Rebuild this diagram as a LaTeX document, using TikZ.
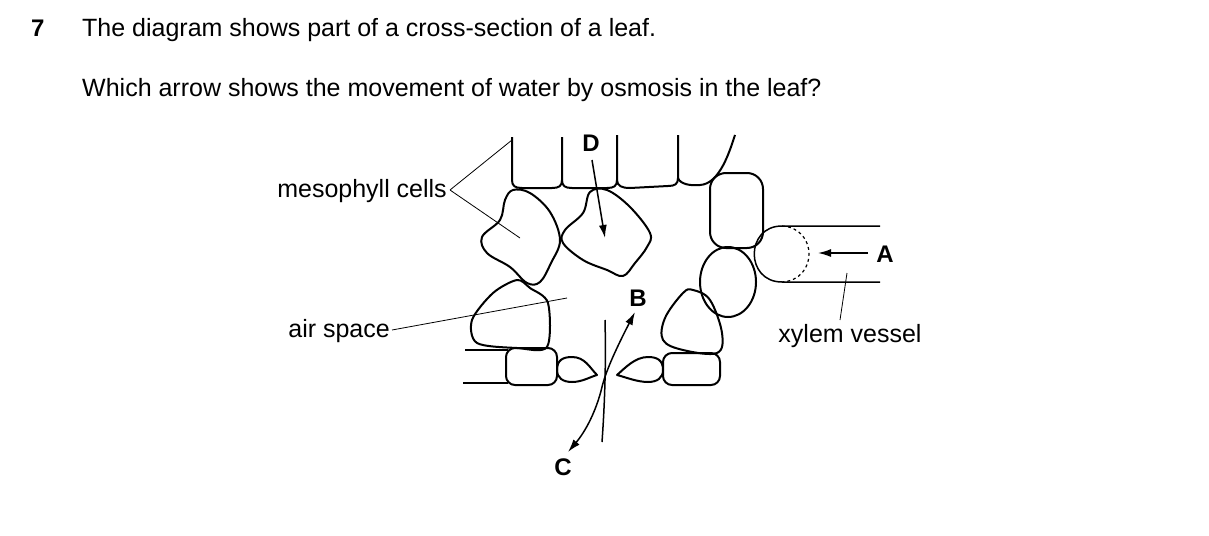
\documentclass[tikz,border=0pt]{standalone}
\usepackage{fontspec}
\setmainfont{Liberation Sans}
\usetikzlibrary{arrows.meta}
\begin{document}
\begin{tikzpicture}[x=1pt,y=-1pt,
  cell/.style={line width=2pt,line join=round},
  lead/.style={line width=0.8pt},
  arr/.style={line width=1.5pt,-{Latex[length=13pt,width=8pt]}},
  txt/.style={font=\fontsize{25}{30}\selectfont,inner sep=0pt},
  lab/.style={font=\fontsize{24}{28}\selectfont\bfseries,inner sep=0pt}]
\useasboundingbox (0,0) rectangle (1209,535);
\node[lab,anchor=base west] (q) at (31,37) {7};
\node[txt,anchor=base west] (t1) at (82,37) {The diagram shows part of a cross-section of a leaf.};
\node[txt,anchor=base west] (t2) at (82,96) {Which arrow shows the movement of water by osmosis in the leaf?};
% upper epidermis
\draw[cell] (512,137) -- (512,180) .. controls (512,186) and (515,188) .. (522,188) -- (552,188) .. controls (559,188) and (562,186) .. (562,180) -- (562,137);
\draw[cell] (562,180) .. controls (562,186) and (565,188) .. (572,188) -- (607,188) .. controls (614,188) and (617,186) .. (617,180) -- (617,135);
\draw[cell] (617,180) .. controls (617,186) and (622,188) .. (630,188) -- (668,186) .. controls (675,186) and (678,184) .. (678,178) -- (678,135);
\draw[cell] (678,178) .. controls (680,184) and (690,186) .. (700,185) .. controls (720,184) and (730,150) .. (735,135);
% mesophyll
\draw[cell] plot[smooth cycle,tension=0.6] coordinates {(513,190) (530,193) (550,212) (560,240) (551,263) (540,282) (527,283) (510,267) (487,253) (482,237) (500,220) (505,200)};
\draw[cell] plot[smooth cycle,tension=0.6] coordinates {(590,192) (607,190) (630,207) (650,233) (647,247) (635,263) (623,276) (607,270) (583,260) (563,243) (565,230) (583,213)};
\draw[cell] plot[smooth cycle,tension=0.5] coordinates {(517,280) (530,288) (548,303) (547,347) (517,348) (477,343) (472,320) (493,293)};
\draw[cell,rounded corners=16pt] (710,173) rectangle (763,248);
\draw[cell] (728,282) ellipse[x radius=28,y radius=35];
\draw[cell] plot[smooth cycle,tension=0.6] coordinates {(693,290) (710,300) (722,333) (717,353) (683,350) (663,340) (665,318) (683,293)};
% lower epidermis
\draw[cell] (465,350) -- (508,350);
\draw[cell] (463,383) -- (508,383);
\draw[cell,rounded corners=9pt] (506,348) rectangle (557,385);
\draw[cell] (557,370) .. controls (557,360) and (563,357) .. (572,357) .. controls (585,357) and (590,368) .. (597,375) .. controls (590,377) and (582,382) .. (572,382) .. controls (563,382) and (557,378) .. (557,370);
\draw[cell] (663,370) .. controls (663,360) and (657,357) .. (648,357) .. controls (635,357) and (625,368) .. (617,375) .. controls (625,377) and (637,382) .. (648,382) .. controls (657,382) and (663,378) .. (663,370);
\draw[cell,rounded corners=9pt] (663,353) rectangle (720,385);
% xylem
\draw[cell,line width=1.5pt] (880,226) -- (782,226) .. controls (745,226) and (745,282) .. (782,282) -- (880,282);
\draw[line width=1.2pt,dashed] (782,226) .. controls (818,228) and (818,280) .. (782,282);
% arrows
\node[lab] (A) at (885,254) {A};
\coordinate (A0) at (868,253);
\draw[arr] (A0) -- (818,253);
\node[lab] (D) at (591,143) {D};
\draw[arr] (592,160) -- (605,238);
\node[lab] (B) at (638,298) {B};
\node[lab] (C) at (563,467) {C};
\draw[line width=1.5pt,{Latex[length=13pt,width=8pt]}-{Latex[length=13pt,width=8pt]}] (635,312) .. controls (618,345) and (606,370) .. (602,387) .. controls (596,412) and (585,432) .. (568,452);
\draw[line width=1.5pt] (605,320) .. controls (606,360) and (605,400) .. (602,442);
% labels
\node[txt,anchor=base east] (ms) at (447,197) {mesophyll cells};
\draw[lead] (450,190) -- (512,140);
\draw[lead] (450,190) -- (520,238);
\node[txt,anchor=base east] (as) at (390,337) {air space};
\draw[lead] (392,330) -- (567,298);
\node[txt,anchor=base] (xv) at (850,342) {xylem vessel};
\draw[lead] (847,273) -- (840,320);
\end{tikzpicture}
\end{document}
